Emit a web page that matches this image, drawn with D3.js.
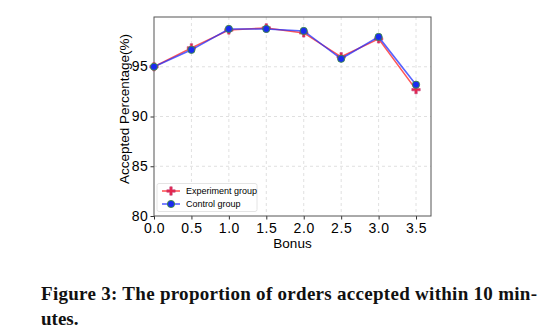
<!DOCTYPE html>
<html>
<head>
<meta charset="utf-8">
<script src="https://cdn.jsdelivr.net/npm/d3@7"></script>
<style>
  body { margin: 0; background: #fff; }
</style>
</head>
<body>
<div id="chart"></div>
<script>
// data
const bonus = [0.0, 0.5, 1.0, 1.5, 2.0, 2.5, 3.0, 3.5];
const experiment = [95.0, 96.9, 98.7, 98.9, 98.4, 96.0, 97.8, 92.7];
const control = [95.0, 96.7, 98.8, 98.8, 98.6, 95.8, 98.0, 93.2];
const xTicks = [0.0, 0.5, 1.0, 1.5, 2.0, 2.5, 3.0, 3.5];
const yTicks = [80, 85, 90, 95];
const seriesNames = ["Experiment group", "Control group"];
const caption = ["Figure 3: The proportion of orders accepted within 10 min-", "utes."];

const width = 546, height = 333;
const plot = {left: 154, right: 431, top: 17, bottom: 216};
const sans = "'Liberation Sans', Arial, sans-serif";

const svg = d3.select("#chart").append("svg")
    .attr("width", width)
    .attr("height", height);

const x = d3.scaleLinear().domain([0, 3.7]).range([plot.left, plot.right]);
const y = d3.scaleLinear().domain([80, 100]).range([plot.bottom, plot.top]);

// grid
const grid = svg.append("g");
grid.selectAll("line.gx")
    .data(xTicks.slice(1))
    .join("line")
        .attr("x1", d => x(d)).attr("x2", d => x(d))
        .attr("y1", plot.top).attr("y2", plot.bottom)
        .attr("stroke", "#d8d8d8")
        .attr("stroke-dasharray", "3,3")
        .attr("stroke-width", 0.8);
grid.selectAll("line.gy")
    .data(yTicks.slice(1))
    .join("line")
        .attr("x1", plot.left).attr("x2", plot.right)
        .attr("y1", d => y(d)).attr("y2", d => y(d))
        .attr("stroke", "#d8d8d8")
        .attr("stroke-dasharray", "3,3")
        .attr("stroke-width", 0.8);

// axes
const xAxis = svg.append("g")
    .attr("transform", `translate(0, ${plot.bottom})`)
    .call(d3.axisBottom(x).tickValues(xTicks).tickFormat(d3.format(".1f")).tickSize(3.5).tickPadding(4));
const yAxis = svg.append("g")
    .attr("transform", `translate(${plot.left}, 0)`)
    .call(d3.axisLeft(y).tickValues(yTicks).tickSize(3.5).tickPadding(2));

[xAxis, yAxis].forEach(a => {
    a.select(".domain").remove();
    a.selectAll("line").attr("stroke", "#333");
    a.selectAll("text")
        .attr("fill", "#000")
        .style("font", `14px ${sans}`)
        .style("letter-spacing", "0.6px");
});
xAxis.selectAll("text").attr("dy", "0.68em");
yAxis.selectAll("text").attr("dy", "0.3em");

// frame
svg.append("rect")
    .attr("x", plot.left).attr("y", plot.top)
    .attr("width", plot.right - plot.left)
    .attr("height", plot.bottom - plot.top)
    .attr("fill", "none")
    .attr("stroke", "#555")
    .attr("stroke-width", 1);

// axis titles
svg.append("text")
    .attr("x", (plot.left + plot.right) / 2)
    .attr("y", 248)
    .attr("text-anchor", "middle")
    .style("font", `13.5px ${sans}`)
    .text("Bonus");
svg.append("text")
    .attr("transform", `translate(124, 109) rotate(-90)`)
    .attr("text-anchor", "middle")
    .attr("dy", "0.35em")
    .style("font", `13.5px ${sans}`)
    .text("Accepted Percentage(%)");

// lines and markers
const line = d3.line().x((d, i) => x(bonus[i])).y(d => y(d));
const plusPath = "M-1.2,-4.2H1.2V-1.2H4.2V1.2H1.2V4.2H-1.2V1.2H-4.2V-1.2H-1.2Z";

function drawSeries(vals, color, marker) {
    svg.append("path")
        .datum(vals)
        .attr("d", line)
        .attr("fill", "none")
        .attr("stroke", color)
        .attr("stroke-opacity", 0.75)
        .attr("stroke-width", 1.6);
    const g = svg.append("g");
    vals.forEach((v, i) => drawMarker(g, x(bonus[i]), y(v), marker));
}

function drawMarker(g, cx, cy, marker) {
    if (marker === "plus") {
        g.append("path")
            .attr("d", plusPath)
            .attr("transform", `translate(${cx},${cy})`)
            .attr("fill", "#e8254a")
            .attr("stroke", "#c0407a")
            .attr("stroke-width", 0.6);
    } else {
        g.append("circle")
            .attr("cx", cx).attr("cy", cy).attr("r", 3.6)
            .attr("fill", "#1a2bf0")
            .attr("stroke", "#3f8f3f")
            .attr("stroke-width", 0.9);
    }
}

drawSeries(experiment, "#ff1f1f", "plus");
drawSeries(control, "#2030ff", "circle");

// legend
const legend = svg.append("g");
legend.append("rect")
    .attr("x", 157).attr("y", 183.5)
    .attr("width", 100).attr("height", 28)
    .attr("rx", 2)
    .attr("fill", "#fff")
    .attr("fill-opacity", 0.85)
    .attr("stroke", "#ddd")
    .attr("stroke-width", 0.8);
const legendColors = ["#ff1f1f", "#2030ff"];
const legendMarkers = ["plus", "circle"];
seriesNames.forEach((name, i) => {
    const ly = 191 + i * 13;
    legend.append("line")
        .attr("x1", 162).attr("x2", 180)
        .attr("y1", ly).attr("y2", ly)
        .attr("stroke", legendColors[i])
        .attr("stroke-opacity", 0.75)
        .attr("stroke-width", 1.6);
    drawMarker(legend, 171, ly, legendMarkers[i]);
    legend.append("text")
        .attr("x", 186).attr("y", ly)
        .attr("dy", "0.35em")
        .style("font", `9px ${sans}`)
        .text(name);
});

// caption
svg.append("g").selectAll("text")
    .data(caption)
    .join("text")
        .attr("x", 41)
        .attr("y", (d, i) => 300 + i * 25)
        .style("font", "bold 19px 'Liberation Serif', serif")
        .attr("fill", "#111")
        .attr("textLength", (d, i) => i === 0 ? 496 : null)
        .attr("lengthAdjust", "spacing")
        .text(d => d);
</script>
</body>
</html>
